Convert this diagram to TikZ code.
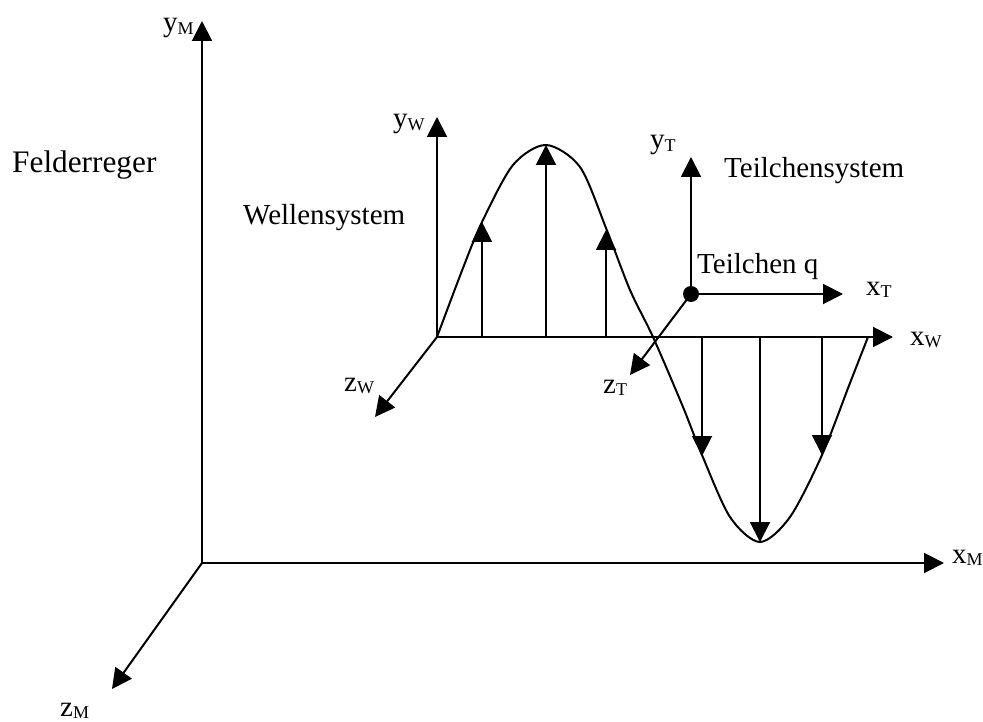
\documentclass[tikz,border=0pt]{standalone}
\usepackage{fontspec}
\setmainfont{Liberation Serif}
\usetikzlibrary{arrows.meta}
\newcommand{\axlbl}[2]{#1\raisebox{-0.1em}{\fontsize{18}{18}\selectfont #2}}
\begin{document}
\begin{tikzpicture}[x=1pt,y=-1pt,
  axis/.style={line width=2pt,-{Triangle[length=20pt,width=20pt]}},
  lbl/.style={anchor=base west,inner sep=0pt,font=\fontsize{29}{34}\selectfont},
  wave/.style={line width=2pt}]
\useasboundingbox (0,0) rectangle (983,722);
% coordinates
\coordinate (OM) at (202,563);
\coordinate (YM) at (202,21);
\coordinate (XM) at (944,563);
\coordinate (ZM) at (112,689);
\coordinate (OW) at (437,337);
\coordinate (YW) at (437,117);
\coordinate (XW) at (893,337);
\coordinate (ZW) at (375,417);
\coordinate (OT) at (691,294);
\coordinate (YT) at (691,157);
\coordinate (XT) at (843,294);
\coordinate (ZT) at (630,375);
% main axes
\draw[axis] (OM) -- (YM);
\draw[axis] (OM) -- (XM);
\draw[axis] (OM) -- (ZM);
% wave system axes
\draw[axis] (OW) -- (YW);
\draw[axis] (OW) -- (XW);
\draw[axis] (OW) -- (ZW);
% wave
\draw[wave] plot[smooth] coordinates {(437,337) (463,268) (482,222) (513,165) (546,145) (580,167) (606,228) (630,290) (653,337) (683,407) (702,455) (730,517) (760,542) (790,517) (822,455) (850,383) (868,337)};
% field vectors
\coordinate (a1) at (482,337); \coordinate (b1) at (482,222);
\coordinate (a2) at (546,337); \coordinate (b2) at (546,145);
\coordinate (a3) at (606,337); \coordinate (b3) at (606,230);
\coordinate (a4) at (702,337); \coordinate (b4) at (702,456);
\coordinate (a5) at (760,337); \coordinate (b5) at (760,542);
\coordinate (a6) at (822,337); \coordinate (b6) at (822,455);
\foreach \i in {1,...,6} {\draw[axis] (a\i) -- (b\i);}
% particle system
\draw[axis] (OT) -- (YT);
\draw[axis] (OT) -- (XT);
\draw[axis] (OT) -- (ZT);
\node[circle,fill,inner sep=0pt,minimum size=16pt] (q) at (OT) {};
% labels
\node[lbl] (lYM) at (163,32) {\axlbl{y}{M}};
\node[lbl] (lXM) at (952,563) {\axlbl{x}{M}};
\node[lbl] (lZM) at (60,716) {\axlbl{z}{M}};
\node[lbl] (lYW) at (393,128) {\axlbl{y}{W}};
\node[lbl] (lXW) at (910,345) {\axlbl{x}{W}};
\node[lbl] (lZW) at (344,391) {\axlbl{z}{W}};
\node[lbl] (lYT) at (650,149) {\axlbl{y}{T}};
\node[lbl] (lXT) at (866,295) {\axlbl{x}{T}};
\node[lbl] (lZT) at (603,393) {\axlbl{z}{T}};
\node[lbl,font=\fontsize{31.3}{36}\selectfont] (fe) at (12,173) {Felderreger};
\node[lbl] (ws) at (243,225) {Wellensystem};
\node[lbl] (ts) at (724,178) {Teilchensystem};
\node[lbl] (tq) at (697,273) {Teilchen q};
\end{tikzpicture}
\end{document}
